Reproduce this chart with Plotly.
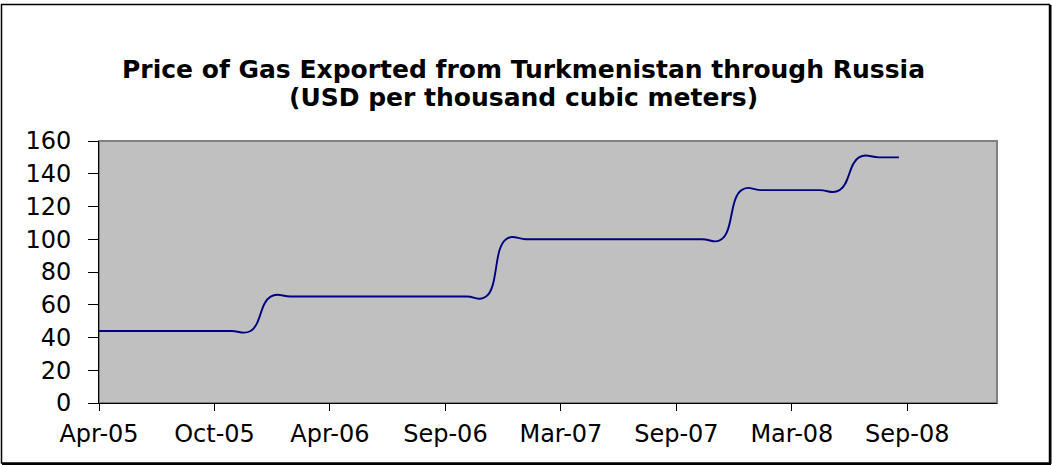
import plotly.graph_objects as go
import pandas as pd

# ---------------- data ----------------
dates = [
    "2005-04-10", "2005-05-01", "2005-06-01", "2005-07-01", "2005-08-01",
    "2005-09-01", "2005-10-01", "2005-11-01", "2005-12-01",
    "2006-01-01", "2006-02-01", "2006-03-01", "2006-04-01", "2006-05-01",
    "2006-06-01", "2006-07-01", "2006-08-01", "2006-09-01", "2006-10-01",
    "2006-11-01", "2006-12-01",
    "2007-01-01", "2007-02-01", "2007-03-01", "2007-04-01", "2007-05-01",
    "2007-06-01", "2007-07-01", "2007-08-01", "2007-09-01", "2007-10-01",
    "2007-11-01", "2007-12-01",
    "2008-01-01", "2008-02-01", "2008-03-01", "2008-04-01", "2008-05-01",
    "2008-06-01", "2008-07-01", "2008-08-01", "2008-09-01",
]
prices = [
    44, 44, 44, 44, 44, 44, 44, 44, 44,
    65, 65, 65, 65, 65, 65, 65, 65, 65, 65, 65, 65,
    100, 100, 100, 100, 100, 100, 100, 100, 100, 100, 100, 100,
    130, 130, 130, 130, 130, 130,
    150, 150, 150,
]
tick_labels = ["Apr-05", "Oct-05", "Apr-06", "Sep-06", "Mar-07", "Sep-07", "Mar-08", "Sep-08"]
axis_start = "2005-04-10"
tick_step_days = 179
axis_end = "2009-01-31"
y_ticks = [0, 20, 40, 60, 80, 100, 120, 140, 160]

title_lines = [
    "Price of Gas Exported from Turkmenistan through Russia",
    "(USD per thousand cubic meters)",
]

# ---------------- layout geometry ----------------
W, H = 1052, 465
L, R, T, B = 99, 55, 141, 62
PW, PH = W - L - R, H - T - B

def px_x(px):
    return (px - L) / PW

def px_y(py):
    return (H - B - py) / PH

tick_vals = list(pd.date_range(axis_start, periods=len(tick_labels), freq=f"{tick_step_days}D"))

fig = go.Figure()
fig.add_trace(go.Scatter(
    x=pd.to_datetime(dates), y=prices, mode="lines",
    line=dict(color="#000080", width=1.9, shape="spline", smoothing=1.3),
    showlegend=False, hoverinfo="x+y",
))

font_family = "DejaVu Sans"
title_centres_px = [70, 98]

annotations = [
    dict(text=f"<b>{line}</b>", xref="paper", yref="paper",
         x=px_x(523), y=px_y(cy), xanchor="center", yanchor="middle",
         showarrow=False, font=dict(family=font_family, size=25, color="black"))
    for line, cy in zip(title_lines, title_centres_px)
]

fig.update_layout(
    width=W, height=H,
    margin=dict(l=L, r=R, t=T, b=B, pad=0),
    paper_bgcolor="white",
    plot_bgcolor="#C0C0C0",
    annotations=annotations,
    xaxis=dict(
        type="date",
        range=[axis_start, axis_end],
        tickvals=tick_vals, ticktext=tick_labels,
        showgrid=False, zeroline=False,
        showline=True, linecolor="black", linewidth=1,
        ticks="outside", ticklen=7, tickcolor="black", tickwidth=1,
        tickfont=dict(family=font_family, size=24, color="black"),
        ticklabelstandoff=2,
    ),
    yaxis=dict(
        range=[0, 160],
        tickvals=y_ticks,
        showgrid=False, zeroline=False,
        showline=True, linecolor="black", linewidth=1,
        ticks="outside", ticklen=10, tickcolor="black", tickwidth=1,
        tickfont=dict(family=font_family, size=24, color="black"),
        ticklabelstandoff=12,
    ),
    shapes=[
        # plot-area border
        dict(type="rect", xref="paper", yref="paper", x0=0, x1=1, y0=0, y1=1,
             line=dict(color="#808080", width=2), layer="below"),
        # outer chart border
        dict(type="rect", xref="paper", yref="paper",
             x0=px_x(1.5), x1=px_x(1049.5), y0=px_y(463), y1=px_y(4.5),
             line=dict(color="black", width=1.5), layer="above"),
        dict(type="line", xref="paper", yref="paper",
             x0=px_x(1050.5), x1=px_x(1050.5), y0=px_y(464), y1=px_y(5),
             line=dict(color="black", width=2)),
        dict(type="line", xref="paper", yref="paper",
             x0=px_x(2), x1=px_x(1051), y0=px_y(464), y1=px_y(464),
             line=dict(color="black", width=2)),
    ],
)

fig.write_html(
    "out.html",
    config={"displayModeBar": False},
    post_script="document.body.style.margin='0';document.body.style.overflow='hidden';",
)
